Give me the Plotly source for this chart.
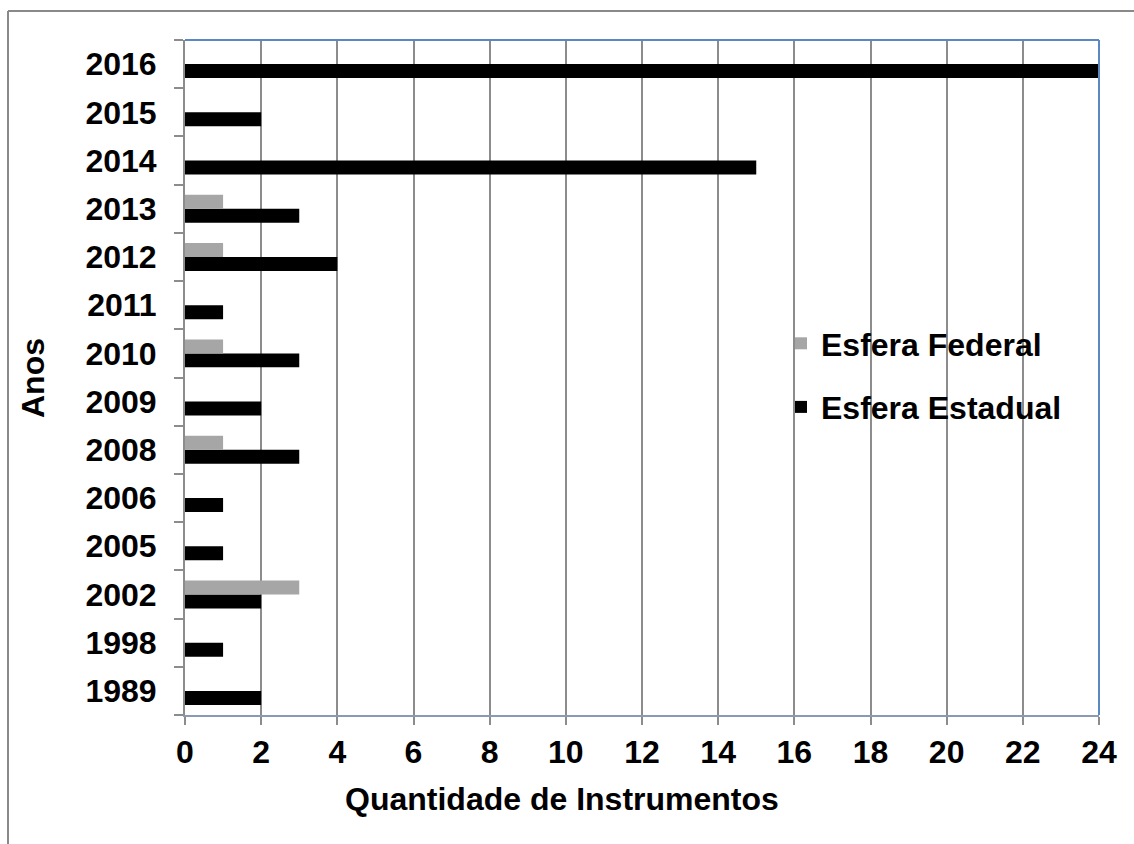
import plotly.graph_objects as go

years = ["1989", "1998", "2002", "2005", "2006", "2008", "2009", "2010",
         "2011", "2012", "2013", "2014", "2015", "2016"]
estadual = [2, 1, 2, 1, 1, 3, 2, 3, 1, 4, 3, 15, 2, 24]
federal = [None, None, 3, None, None, 1, None, 1, None, 1, 1, None, None, None]

W, H = 1134, 844
L, R, T, B = 185, 1099, 40, 715
FS = 32

def px(x):
    return (x - L) / (R - L)

def py(y):
    return (B - y) / (B - T)

fig = go.Figure()
fig.add_trace(go.Bar(y=years, x=estadual, orientation="h", name="Esfera Estadual",
                     marker=dict(color="#000000", line=dict(width=0)),
                     legendgroup="b", legendrank=2))
fig.add_trace(go.Bar(y=years, x=federal, orientation="h", name="Esfera Federal",
                     marker=dict(color="#a6a6a6", line=dict(width=0)),
                     legendgroup="a", legendrank=1))

fig.update_layout(
    width=W, height=H,
    margin=dict(l=L, r=W - R, t=T, b=H - B, autoexpand=False),
    paper_bgcolor="white", plot_bgcolor="white",
    font=dict(family="Liberation Sans, Arial, sans-serif", size=FS, color="black", weight="bold"),
    barmode="group", bargap=0.42, bargroupgap=0,
    showlegend=True,
    legend=dict(x=px(781), y=py(316), xanchor="left", yanchor="top",
                bgcolor="rgba(0,0,0,0)", borderwidth=0,
                tracegroupgap=19, traceorder="grouped",
                font=dict(size=FS, weight="bold")),
    xaxis=dict(range=[0, 24], dtick=2, tick0=0, showgrid=True, gridcolor="#8c8c8c", gridwidth=2,
               zeroline=False, showline=True, linecolor="#8a9ab0", linewidth=2,
               ticks="outside", ticklen=8, tickwidth=2, tickcolor="#8c8c8c",
               tickfont=dict(size=FS, weight="bold"), fixedrange=True),
    yaxis=dict(type="category", showgrid=False, zeroline=False, showline=True,
               linecolor="#8c8c8c", linewidth=2, ticks="outside", ticklen=9, tickwidth=2,
               tickcolor="#8c8c8c", tickson="boundaries",
               tickfont=dict(size=FS, weight="bold"), ticklabelstandoff=20),
)

# plot area border (blue top & right)
fig.add_shape(type="line", xref="paper", yref="paper", x0=0, x1=1, y0=1, y1=1,
              line=dict(color="#5b87c2", width=2), layer="above")
fig.add_shape(type="line", xref="paper", yref="paper", x0=1, x1=1, y0=0, y1=1,
              line=dict(color="#5b87c2", width=2), layer="above")
# outer chart frame (top & left)
fig.add_shape(type="line", xref="paper", yref="paper", x0=px(8), x1=px(1134), y0=py(11), y1=py(11),
              line=dict(color="#898989", width=2))
fig.add_shape(type="line", xref="paper", yref="paper", x0=px(8), x1=px(8), y0=py(11), y1=py(844),
              line=dict(color="#898989", width=2))

fig.add_annotation(text="Quantidade de Instrumentos", xref="paper", yref="paper",
                   x=px(562), y=py(799), showarrow=False, xanchor="center", yanchor="middle",
                   font=dict(size=FS, weight="bold"))
fig.add_annotation(text="Anos", xref="paper", yref="paper", textangle=-90,
                   x=px(33), y=py(378), showarrow=False, xanchor="center", yanchor="middle",
                   font=dict(size=FS, weight="bold"))

fig.write_html("out.html")
